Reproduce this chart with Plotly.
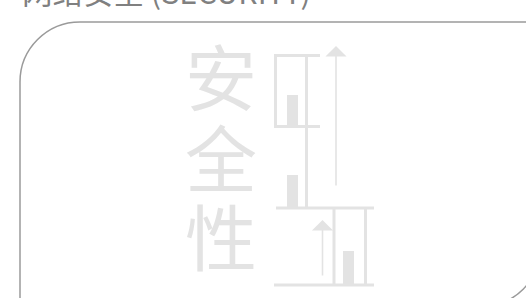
import plotly.graph_objects as go

# ---- data ----
title_text = "网络安全 (SECURITY)"
label_chars = ["安", "全", "性"]
bar_heights = [30, 32, 34]          # the three small bars (px-units)

# ---- layout helpers (pixel-space drawing area, y measured upward) ----
W, H = 526, 298
def up(p):
    return H - p

LIGHT = "#e3e3e3"
BORDER = "#9a9a9a"

bar_x = [292.5, 292.5, 348.5]
bar_base = [up(125), up(207), up(285)]

fig = go.Figure()
fig.add_trace(go.Bar(x=bar_x, y=bar_heights, base=bar_base, width=11,
                     marker=dict(color=LIGHT, line=dict(width=0)),
                     hoverinfo="skip", showlegend=False))

shapes = []
def hline(x0, x1, yp, w=3):
    shapes.append(dict(type="line", x0=x0, x1=x1, y0=up(yp), y1=up(yp),
                       line=dict(color=LIGHT, width=w), layer="above"))
def vline(xp, y0, y1, w=3):
    shapes.append(dict(type="line", x0=xp, x1=xp, y0=up(y0), y1=up(y1),
                       line=dict(color=LIGHT, width=w), layer="above"))

# upper frame
hline(274, 320, 55.5)
hline(274, 320, 126.5)
vline(275.5, 54, 128)
vline(306.5, 54, 207)
# lower frame
hline(276, 374, 208)
hline(274, 374, 285)
vline(334, 207, 285)
vline(365.5, 207, 285)

# leaf-shaped border: rounded top-left and bottom-right corners (partly outside view)
L, T, R, B, r = 20, up(22), 541, up(306.5), 60
k = 0.5523 * r
path = (f"M {L},{B} L {L},{T-r} C {L},{T-r+k} {L+r-k},{T} {L+r},{T} "
        f"L {R},{T} L {R},{B+r} C {R},{B+r-k} {R-r+k},{B} {R-r},{B} Z")
shapes.append(dict(type="path", path=path, line=dict(color=BORDER, width=1.5),
                   fillcolor="rgba(0,0,0,0)", layer="below"))

annotations = []
# arrows
for xp, tail, tip in [(336, 187, 46), (322.5, 277, 220)]:
    annotations.append(dict(x=xp, y=up(tip), ax=xp, ay=up(tail), axref="x", ayref="y",
                            xref="x", yref="y", text="", showarrow=True,
                            arrowhead=1, arrowsize=2.2, arrowwidth=1.6,
                            arrowcolor=LIGHT, standoff=0))
# vertical characters
for ch, cy in zip(label_chars, [73.5, 154, 233]):
    annotations.append(dict(x=221, y=up(cy), xref="x", yref="y", text=ch,
                            showarrow=False, xanchor="center", yanchor="middle",
                            font=dict(family="Noto Sans CJK SC", size=72, color=LIGHT)))
# title (cut off at the top)
annotations.append(dict(x=20 / W, y=1 - 15 / H, xref="paper", yref="paper",
                        text=title_text, showarrow=False, xanchor="left", yanchor="bottom",
                        font=dict(family="Noto Sans CJK SC", size=30.5, color="#808080")))

fig.update_layout(
    width=W, height=H, margin=dict(l=0, r=0, t=0, b=0),
    paper_bgcolor="white", plot_bgcolor="white",
    xaxis=dict(range=[0, W], visible=False, fixedrange=True),
    yaxis=dict(range=[0, H], visible=False, fixedrange=True),
    shapes=shapes, annotations=annotations, showlegend=False,
)
fig.write_html("out.html", config={"displayModeBar": False},
               post_script="document.body.style.margin='0';document.body.style.overflow='hidden';")
